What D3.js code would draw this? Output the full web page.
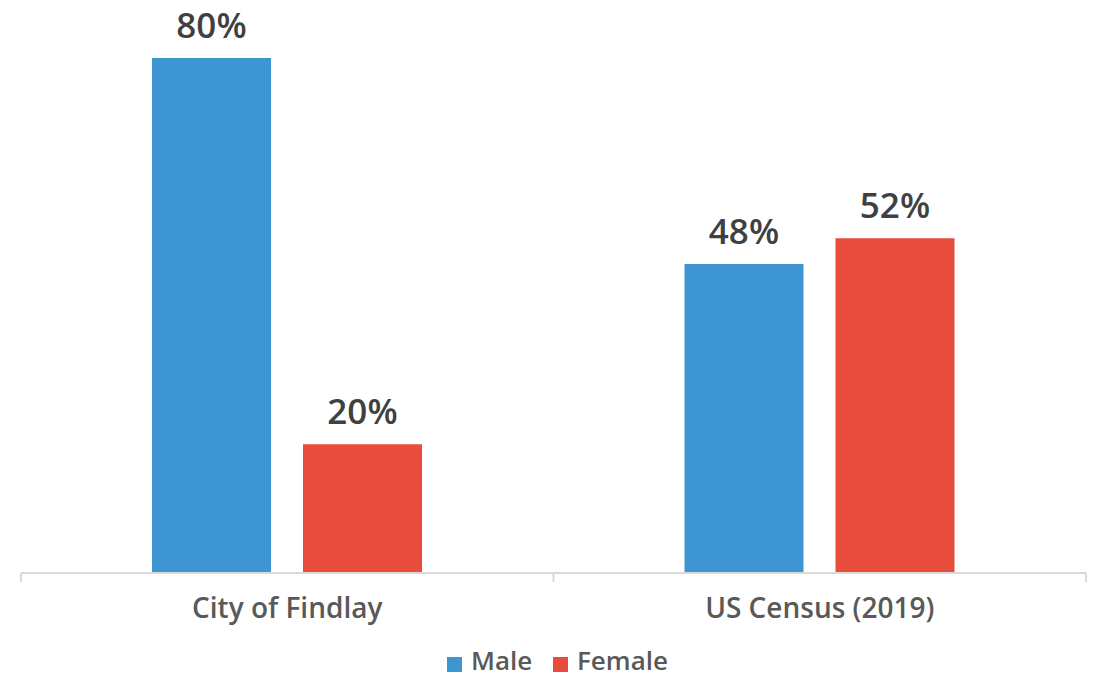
<!DOCTYPE html>
<html>
<head>
<meta charset="utf-8">
<script src="https://cdn.jsdelivr.net/npm/d3@7"></script>
<style>
  body { margin: 0; background: #fff; }
  text { font-family: "Open Sans", Lato, sans-serif; }
</style>
</head>
<body>
<div id="chart"></div>
<script>
var categories = ["City of Findlay", "US Census (2019)"];
var seriesNames = ["Male", "Female"];
var male = [80, 48];
var female = [20, 52];
var colors = ["#3d95d2", "#e74c3c"];

var width = 1094, height = 677;

var svg = d3.select("#chart").append("svg").attr("width", width).attr("height", height);

var x0 = d3.scaleBand().domain(categories).range([21, 1086]).padding(0);
var x1 = d3.scaleBand().domain(seriesNames).range([131, 401]).paddingInner(0.212);
var y = d3.scaleLinear().domain([0, 80]).range([573, 58]);

var rows = categories.map(function(c, i) {
  return { cat: c, values: [male[i], female[i]] };
});

var groups = svg.selectAll("g.grp").data(rows).enter().append("g")
  .attr("class", "grp")
  .attr("transform", function(d) { return "translate(" + x0(d.cat) + ",0)"; });

groups.selectAll("rect").data(function(d) {
  return d.values.map(function(v, j) { return { name: seriesNames[j], v: v, j: j }; });
}).enter().append("rect")
  .attr("x", function(d) { return x1(d.name); })
  .attr("y", function(d) { return y(d.v); })
  .attr("width", x1.bandwidth())
  .attr("height", function(d) { return y(0) - y(d.v); })
  .attr("fill", function(d) { return colors[d.j]; });

groups.selectAll("text.val").data(function(d) {
  return d.values.map(function(v, j) { return { name: seriesNames[j], v: v }; });
}).enter().append("text")
  .attr("class", "val")
  .attr("x", function(d) { return x1(d.name) + x1.bandwidth() / 2; })
  .attr("y", function(d) { return y(d.v) - 20; })
  .attr("text-anchor", "middle")
  .attr("font-size", 35)
  .attr("font-weight", 600)
  .attr("fill", "#404040")
  .text(function(d) { return d.v + "%"; });

// axis
var axis = svg.append("g").attr("transform", "translate(0," + y(0) + ")");
axis.append("line").attr("x1", 21).attr("x2", 1086).attr("stroke", "#d9d9d9").attr("stroke-width", 2);
var tickX = categories.map(function(c) { return x0(c); }).concat([x0.range()[1]]);
axis.selectAll("line.tick").data(tickX).enter().append("line")
  .attr("class", "tick")
  .attr("x1", function(d) { return d; }).attr("x2", function(d) { return d; })
  .attr("y1", 0).attr("y2", 9)
  .attr("stroke", "#d9d9d9").attr("stroke-width", 2);
axis.selectAll("text").data(categories).enter().append("text")
  .attr("x", function(d) { return x0(d) + x0.bandwidth() / 2; })
  .attr("y", 45)
  .attr("text-anchor", "middle")
  .attr("font-size", 28)
  .attr("font-weight", 600)
  .attr("fill", "#595959")
  .text(function(d) { return d; });

// legend
var legend = svg.append("g").attr("transform", "translate(447,657)");
var legX = [0, 106];
seriesNames.forEach(function(s, i) {
  var g = legend.append("g").attr("transform", "translate(" + legX[i] + ",0)");
  g.append("rect").attr("x", 0).attr("y", 0).attr("width", 15).attr("height", 15).attr("fill", colors[i]);
  g.append("text").attr("x", 24).attr("y", 13).attr("font-size", 26).attr("font-weight", 600).attr("fill", "#595959").text(s);
});
</script>
</body>
</html>
